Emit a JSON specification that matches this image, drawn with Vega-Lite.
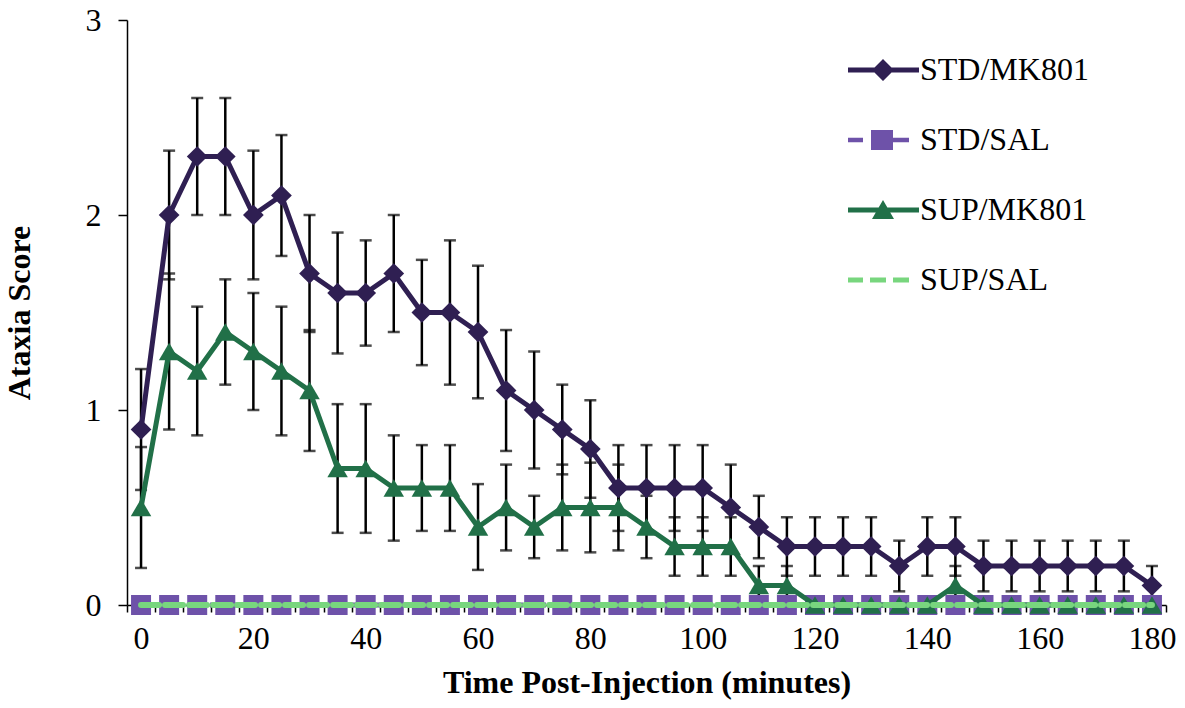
{
  "$schema": "https://vega.github.io/schema/vega-lite/v6.json",
  "width": 1039,
  "height": 585,
  "autosize": "none",
  "padding": {"left": 127, "top": 20, "right": 19, "bottom": 103},
  "background": "white",
  "config": {"view": {"stroke": null}, "font": "Liberation Serif"},
  "data": {"values": [
    {"t":0,"s":"STD/MK801","v":0.9,"e":0.31},{"t":5,"s":"STD/MK801","v":2.0,"e":0.33},{"t":10,"s":"STD/MK801","v":2.3,"e":0.3},{"t":15,"s":"STD/MK801","v":2.3,"e":0.3},{"t":20,"s":"STD/MK801","v":2.0,"e":0.33},{"t":25,"s":"STD/MK801","v":2.1,"e":0.31},{"t":30,"s":"STD/MK801","v":1.7,"e":0.3},{"t":35,"s":"STD/MK801","v":1.6,"e":0.31},{"t":40,"s":"STD/MK801","v":1.6,"e":0.27},{"t":45,"s":"STD/MK801","v":1.7,"e":0.3},{"t":50,"s":"STD/MK801","v":1.5,"e":0.27},{"t":55,"s":"STD/MK801","v":1.5,"e":0.37},{"t":60,"s":"STD/MK801","v":1.4,"e":0.34},{"t":65,"s":"STD/MK801","v":1.1,"e":0.31},{"t":70,"s":"STD/MK801","v":1.0,"e":0.3},{"t":75,"s":"STD/MK801","v":0.9,"e":0.23},{"t":80,"s":"STD/MK801","v":0.8,"e":0.25},{"t":85,"s":"STD/MK801","v":0.6,"e":0.22},{"t":90,"s":"STD/MK801","v":0.6,"e":0.22},{"t":95,"s":"STD/MK801","v":0.6,"e":0.22},{"t":100,"s":"STD/MK801","v":0.6,"e":0.22},{"t":105,"s":"STD/MK801","v":0.5,"e":0.22},{"t":110,"s":"STD/MK801","v":0.4,"e":0.16},{"t":115,"s":"STD/MK801","v":0.3,"e":0.15},{"t":120,"s":"STD/MK801","v":0.3,"e":0.15},{"t":125,"s":"STD/MK801","v":0.3,"e":0.15},{"t":130,"s":"STD/MK801","v":0.3,"e":0.15},{"t":135,"s":"STD/MK801","v":0.2,"e":0.13},{"t":140,"s":"STD/MK801","v":0.3,"e":0.15},{"t":145,"s":"STD/MK801","v":0.3,"e":0.15},{"t":150,"s":"STD/MK801","v":0.2,"e":0.13},{"t":155,"s":"STD/MK801","v":0.2,"e":0.13},{"t":160,"s":"STD/MK801","v":0.2,"e":0.13},{"t":165,"s":"STD/MK801","v":0.2,"e":0.13},{"t":170,"s":"STD/MK801","v":0.2,"e":0.13},{"t":175,"s":"STD/MK801","v":0.2,"e":0.13},{"t":180,"s":"STD/MK801","v":0.1,"e":0.1},
    {"t":0,"s":"SUP/MK801","v":0.5,"e":0.31},{"t":5,"s":"SUP/MK801","v":1.3,"e":0.4},{"t":10,"s":"SUP/MK801","v":1.2,"e":0.33},{"t":15,"s":"SUP/MK801","v":1.4,"e":0.27},{"t":20,"s":"SUP/MK801","v":1.3,"e":0.3},{"t":25,"s":"SUP/MK801","v":1.2,"e":0.33},{"t":30,"s":"SUP/MK801","v":1.1,"e":0.31},{"t":35,"s":"SUP/MK801","v":0.7,"e":0.33},{"t":40,"s":"SUP/MK801","v":0.7,"e":0.33},{"t":45,"s":"SUP/MK801","v":0.6,"e":0.27},{"t":50,"s":"SUP/MK801","v":0.6,"e":0.22},{"t":55,"s":"SUP/MK801","v":0.6,"e":0.22},{"t":60,"s":"SUP/MK801","v":0.4,"e":0.22},{"t":65,"s":"SUP/MK801","v":0.5,"e":0.22},{"t":70,"s":"SUP/MK801","v":0.4,"e":0.16},{"t":75,"s":"SUP/MK801","v":0.5,"e":0.22},{"t":80,"s":"SUP/MK801","v":0.5,"e":0.23},{"t":85,"s":"SUP/MK801","v":0.5,"e":0.22},{"t":90,"s":"SUP/MK801","v":0.4,"e":0.16},{"t":95,"s":"SUP/MK801","v":0.3,"e":0.15},{"t":100,"s":"SUP/MK801","v":0.3,"e":0.15},{"t":105,"s":"SUP/MK801","v":0.3,"e":0.15},{"t":110,"s":"SUP/MK801","v":0.1,"e":0.1},{"t":115,"s":"SUP/MK801","v":0.1,"e":0.1},{"t":120,"s":"SUP/MK801","v":0,"e":0},{"t":125,"s":"SUP/MK801","v":0,"e":0},{"t":130,"s":"SUP/MK801","v":0,"e":0},{"t":135,"s":"SUP/MK801","v":0,"e":0},{"t":140,"s":"SUP/MK801","v":0,"e":0},{"t":145,"s":"SUP/MK801","v":0.1,"e":0.1},{"t":150,"s":"SUP/MK801","v":0,"e":0},{"t":155,"s":"SUP/MK801","v":0,"e":0},{"t":160,"s":"SUP/MK801","v":0,"e":0},{"t":165,"s":"SUP/MK801","v":0,"e":0},{"t":170,"s":"SUP/MK801","v":0,"e":0},{"t":175,"s":"SUP/MK801","v":0,"e":0},{"t":180,"s":"SUP/MK801","v":0,"e":0},
    {"t":0,"s":"STD/SAL","v":0,"e":0},{"t":5,"s":"STD/SAL","v":0,"e":0},{"t":10,"s":"STD/SAL","v":0,"e":0},{"t":15,"s":"STD/SAL","v":0,"e":0},{"t":20,"s":"STD/SAL","v":0,"e":0},{"t":25,"s":"STD/SAL","v":0,"e":0},{"t":30,"s":"STD/SAL","v":0,"e":0},{"t":35,"s":"STD/SAL","v":0,"e":0},{"t":40,"s":"STD/SAL","v":0,"e":0},{"t":45,"s":"STD/SAL","v":0,"e":0},{"t":50,"s":"STD/SAL","v":0,"e":0},{"t":55,"s":"STD/SAL","v":0,"e":0},{"t":60,"s":"STD/SAL","v":0,"e":0},{"t":65,"s":"STD/SAL","v":0,"e":0},{"t":70,"s":"STD/SAL","v":0,"e":0},{"t":75,"s":"STD/SAL","v":0,"e":0},{"t":80,"s":"STD/SAL","v":0,"e":0},{"t":85,"s":"STD/SAL","v":0,"e":0},{"t":90,"s":"STD/SAL","v":0,"e":0},{"t":95,"s":"STD/SAL","v":0,"e":0},{"t":100,"s":"STD/SAL","v":0,"e":0},{"t":105,"s":"STD/SAL","v":0,"e":0},{"t":110,"s":"STD/SAL","v":0,"e":0},{"t":115,"s":"STD/SAL","v":0,"e":0},{"t":120,"s":"STD/SAL","v":0,"e":0},{"t":125,"s":"STD/SAL","v":0,"e":0},{"t":130,"s":"STD/SAL","v":0,"e":0},{"t":135,"s":"STD/SAL","v":0,"e":0},{"t":140,"s":"STD/SAL","v":0,"e":0},{"t":145,"s":"STD/SAL","v":0,"e":0},{"t":150,"s":"STD/SAL","v":0,"e":0},{"t":155,"s":"STD/SAL","v":0,"e":0},{"t":160,"s":"STD/SAL","v":0,"e":0},{"t":165,"s":"STD/SAL","v":0,"e":0},{"t":170,"s":"STD/SAL","v":0,"e":0},{"t":175,"s":"STD/SAL","v":0,"e":0},{"t":180,"s":"STD/SAL","v":0,"e":0},
    {"t":0,"s":"SUP/SAL","v":0,"e":0},{"t":5,"s":"SUP/SAL","v":0,"e":0},{"t":10,"s":"SUP/SAL","v":0,"e":0},{"t":15,"s":"SUP/SAL","v":0,"e":0},{"t":20,"s":"SUP/SAL","v":0,"e":0},{"t":25,"s":"SUP/SAL","v":0,"e":0},{"t":30,"s":"SUP/SAL","v":0,"e":0},{"t":35,"s":"SUP/SAL","v":0,"e":0},{"t":40,"s":"SUP/SAL","v":0,"e":0},{"t":45,"s":"SUP/SAL","v":0,"e":0},{"t":50,"s":"SUP/SAL","v":0,"e":0},{"t":55,"s":"SUP/SAL","v":0,"e":0},{"t":60,"s":"SUP/SAL","v":0,"e":0},{"t":65,"s":"SUP/SAL","v":0,"e":0},{"t":70,"s":"SUP/SAL","v":0,"e":0},{"t":75,"s":"SUP/SAL","v":0,"e":0},{"t":80,"s":"SUP/SAL","v":0,"e":0},{"t":85,"s":"SUP/SAL","v":0,"e":0},{"t":90,"s":"SUP/SAL","v":0,"e":0},{"t":95,"s":"SUP/SAL","v":0,"e":0},{"t":100,"s":"SUP/SAL","v":0,"e":0},{"t":105,"s":"SUP/SAL","v":0,"e":0},{"t":110,"s":"SUP/SAL","v":0,"e":0},{"t":115,"s":"SUP/SAL","v":0,"e":0},{"t":120,"s":"SUP/SAL","v":0,"e":0},{"t":125,"s":"SUP/SAL","v":0,"e":0},{"t":130,"s":"SUP/SAL","v":0,"e":0},{"t":135,"s":"SUP/SAL","v":0,"e":0},{"t":140,"s":"SUP/SAL","v":0,"e":0},{"t":145,"s":"SUP/SAL","v":0,"e":0},{"t":150,"s":"SUP/SAL","v":0,"e":0},{"t":155,"s":"SUP/SAL","v":0,"e":0},{"t":160,"s":"SUP/SAL","v":0,"e":0},{"t":165,"s":"SUP/SAL","v":0,"e":0},{"t":170,"s":"SUP/SAL","v":0,"e":0},{"t":175,"s":"SUP/SAL","v":0,"e":0},{"t":180,"s":"SUP/SAL","v":0,"e":0}
  ]},
  "encoding": {
    "x": {
      "field": "t", "type": "quantitative",
      "scale": {"domain": [-2.5, 182.5], "nice": false, "zero": false},
      "axis": {
        "title": "Time Post-Injection (minutes)",
        "values": [-2.5,2.5,7.5,12.5,17.5,22.5,27.5,32.5,37.5,42.5,47.5,52.5,57.5,62.5,67.5,72.5,77.5,82.5,87.5,92.5,97.5,102.5,107.5,112.5,117.5,122.5,127.5,132.5,137.5,142.5,147.5,152.5,157.5,162.5,167.5,172.5,177.5,182.5,0,20,40,60,80,100,120,140,160,180],
        "labelExpr": "datum.value % 20 === 0 ? datum.label : ''",
        "tickOpacity": {"condition": {"test": "datum.value % 20 === 0", "value": 0}, "value": 1},
        "grid": false, "tickSize": 7, "tickWidth": 1.5, "tickColor": "black",
        "domainColor": "black", "domainWidth": 1.5,
        "labelFont": "Liberation Serif", "labelFontSize": 32, "labelColor": "black",
        "labelPadding": 11, "labelOverlap": false, "labelFlush": false,
        "titleFont": "Liberation Serif", "titleFontSize": 32, "titleFontWeight": "bold", "titleColor": "black",
        "titlePadding": 13
      }
    },
    "y": {
      "field": "v", "type": "quantitative",
      "scale": {"domain": [0, 3], "nice": false},
      "axis": {
        "title": "Ataxia Score", "values": [0, 1, 2, 3], "format": "d",
        "grid": false, "tickSize": 9, "tickWidth": 1.5, "tickColor": "black",
        "domainColor": "black", "domainWidth": 1.5,
        "labelFont": "Liberation Serif", "labelFontSize": 32, "labelColor": "black",
        "labelPadding": 17,
        "titleFont": "Liberation Serif", "titleFontSize": 32, "titleFontWeight": "bold", "titleColor": "black",
        "titlePadding": 49
      }
    },
    "color": {
      "field": "s", "type": "nominal",
      "scale": {"domain": ["STD/MK801", "STD/SAL", "SUP/MK801", "SUP/SAL"], "range": ["#2F1F52", "#6E52A9", "#217048", "#78D67E"]},
      "legend": {
        "title": null, "orient": "none", "legendX": 740, "legendY": 34,
        "padding": 0, "symbolSize": 400, "rowPadding": 38, "labelOffset": 21,
        "labelFont": "Liberation Serif", "labelFontSize": 32, "labelColor": "black", "labelLimit": 0,
        "symbolStrokeWidth": 0,
        "encode": {
          "symbols": {
            "update": {
              "shape": {"signal": "datum.value === 'STD/MK801' ? 'M-3.5,-0.25L3.6,-0.25L3.6,0.25L-3.5,0.25Z M-1.1,0L0,-1.1L1.1,0L0,1.1Z' : datum.value === 'STD/SAL' ? 'M-3.5,-0.22L-2.0,-0.22L-2.0,0.22L-3.5,0.22Z M-1.2,-1L1.0,-1L1.0,1L-1.2,1Z M1.0,-0.22L2.6,-0.22L2.6,0.22L1.0,0.22Z' : datum.value === 'SUP/MK801' ? 'M-3.5,-0.25L3.6,-0.25L3.6,0.25L-3.5,0.25Z M0,-1L1.1,0.9L-1.1,0.9Z' : 'M-3.5,-0.25L-2.0,-0.25L-2.0,0.25L-3.5,0.25Z M-1.3,-0.25L0.3,-0.25L0.3,0.25L-1.3,0.25Z M1.0,-0.25L2.6,-0.25L2.6,0.25L1.0,0.25Z'"},
              "fill": {"signal": "datum.value === 'STD/MK801' ? '#2F1F52' : datum.value === 'STD/SAL' ? '#6E52A9' : datum.value === 'SUP/MK801' ? '#217048' : '#78D67E'"},
              "stroke": {"value": "transparent"},
              "strokeWidth": {"value": 0},
              "opacity": {"value": 1}
            }
          }
        }
      }
    }
  },
  "layer": [
    {
      "transform": [{"filter": "datum.e > 0"}],
      "mark": {"type": "errorbar", "ticks": true, "thickness": 2.5, "size": 12},
      "encoding": {"yError": {"field": "e"}, "color": {"value": "black"}}
    },
    {
      "transform": [{"filter": "datum.s === 'STD/MK801'"}],
      "mark": {"type": "line", "strokeWidth": 5, "strokeCap": "round", "strokeJoin": "round"}
    },
    {
      "transform": [{"filter": "datum.s === 'STD/MK801'"}],
      "mark": {"type": "point", "shape": "diamond", "filled": true, "size": 430, "opacity": 1}
    },
    {
      "transform": [{"filter": "datum.s === 'STD/SAL'"}],
      "mark": {"type": "line", "strokeWidth": 5, "strokeDash": [14, 9]}
    },
    {
      "transform": [{"filter": "datum.s === 'STD/SAL'"}],
      "mark": {"type": "point", "shape": "square", "filled": true, "size": 400, "opacity": 1}
    },
    {
      "transform": [{"filter": "datum.s === 'SUP/MK801'"}],
      "mark": {"type": "line", "strokeWidth": 5, "strokeCap": "round", "strokeJoin": "round"}
    },
    {
      "transform": [{"filter": "datum.s === 'SUP/MK801'"}],
      "mark": {"type": "point", "shape": "triangle-up", "filled": true, "size": 420, "opacity": 1}
    },
    {
      "transform": [{"filter": "datum.s === 'SUP/SAL'"}],
      "mark": {"type": "line", "strokeWidth": 6, "strokeDash": [18, 6], "strokeCap": "round"}
    }
  ]
}
